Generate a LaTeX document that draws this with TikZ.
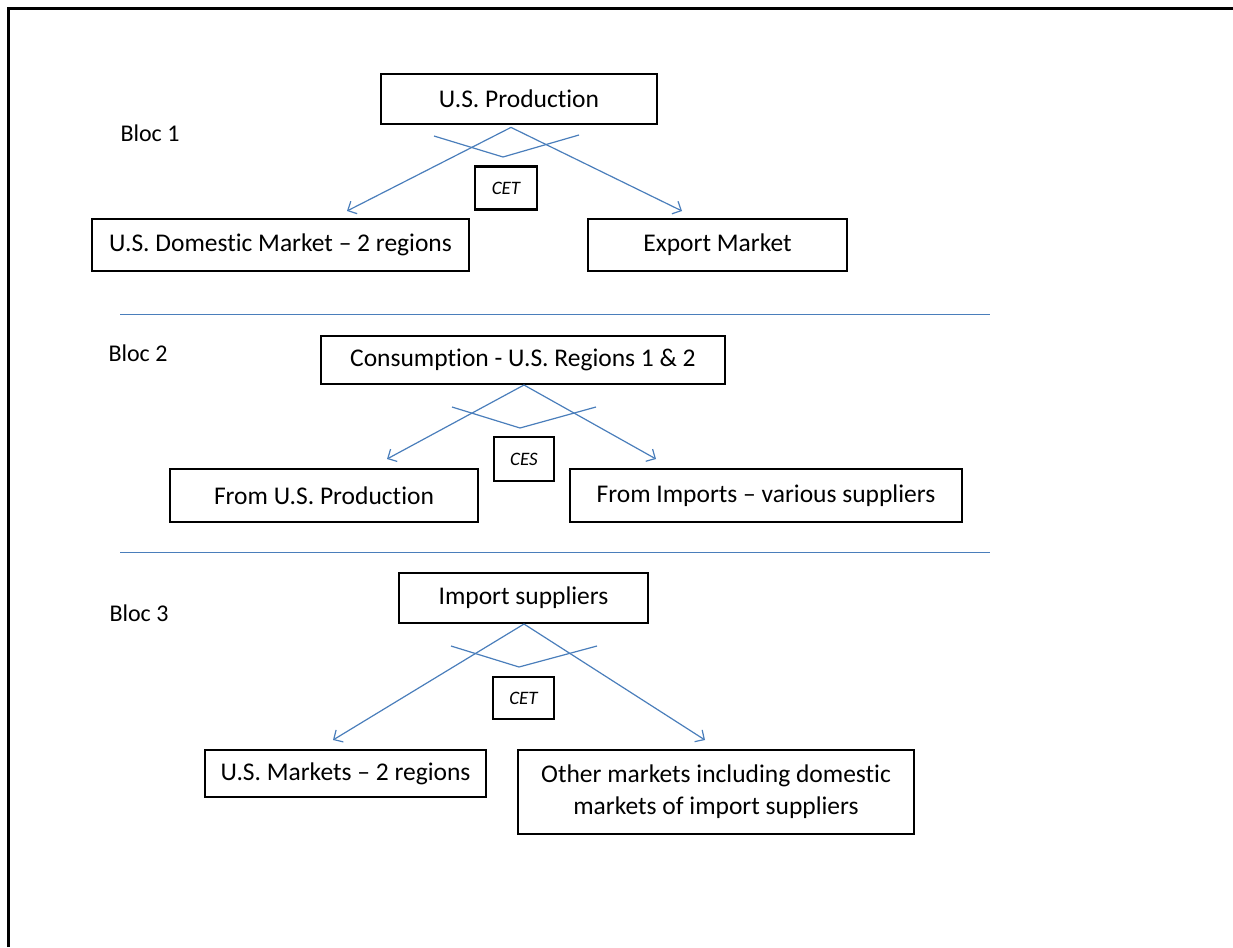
\documentclass[tikz,border=0pt]{standalone}
\usepackage{fontspec}
\setmainfont[Ligatures=NoCommon]{Carlito}
\usetikzlibrary{arrows.meta}
\definecolor{lineblue}{HTML}{4A7EBB}
\tikzset{
  box/.style={draw=black, line width=2.8pt, inner sep=0pt, font=\fontsize{25.5}{32}\selectfont, align=center},
  small/.style={draw=black, line width=2.8pt, inner sep=0pt, font=\fontsize{19}{22}\selectfont\itshape},
  bloc/.style={font=\fontsize{24}{28}\selectfont, inner sep=0pt},
  conn/.style={draw=lineblue, line width=1.2pt, -{Straight Barb[length=7pt,width=14pt,line width=1.2pt]}},
  arcline/.style={draw=lineblue, line width=1.2pt},
  sep/.style={draw=lineblue, line width=1pt}
}
\begin{document}
\begin{tikzpicture}[x=1pt,y=-1pt]
\useasboundingbox (0,0) rectangle (1233,947);
\draw[line width=3pt] (8,947) -- (8,9) -- (1233,9);
% Bloc 1
\node[bloc] (b1) at (150,133) {Bloc 1};
\node[box, minimum width=276pt, minimum height=50pt] (prod) at (519,99) {U.S. Production};
\node[small, minimum width=62pt, minimum height=43pt] (cet1) at (506,188) {CET};
\node[box, minimum width=377pt, minimum height=52pt] (dom) at (280.5,245) {U.S. Domestic Market -- 2 regions};
\node[box, minimum width=259pt, minimum height=52pt] (exp) at (717.5,245) {Export Market};
\coordinate (t1l) at (347,211);
\coordinate (t1r) at (682,211);
\draw[conn] (prod.south) ++(-8,2) coordinate (s1) (s1) -- (t1l);
\draw[conn] (s1) -- (t1r);
\coordinate (a1l) at (434,136);
\coordinate (a1m) at (503,157);
\coordinate (a1r) at (579,135);
\draw[arcline] (a1l) -- (a1m) -- (a1r);
\coordinate (l1a) at (120,314);
\coordinate (l1b) at (990,314);
\draw[sep] (l1a) -- (l1b);
% Bloc 2
\node[bloc] (b2) at (138,353) {Bloc 2};
\node[box, minimum width=404pt, minimum height=48pt] (cons) at (523,360) {Consumption - U.S. Regions 1 \& 2};
\node[small, minimum width=60pt, minimum height=44pt] (ces) at (524,459) {CES};
\node[box, minimum width=308pt, minimum height=53pt] (fus) at (324,495.5) {From U.S. Production};
\node[box, minimum width=392pt, minimum height=53pt] (fim) at (766,495.5) {From Imports -- various suppliers};
\coordinate (s2) at (524,385);
\coordinate (t2l) at (387,459);
\coordinate (t2r) at (656,459);
\draw[conn] (s2) -- (t2l);
\draw[conn] (s2) -- (t2r);
\coordinate (a2l) at (452,407);
\coordinate (a2m) at (520,428);
\coordinate (a2r) at (596,407);
\draw[arcline] (a2l) -- (a2m) -- (a2r);
\coordinate (l2a) at (120,552);
\coordinate (l2b) at (990,552);
\draw[sep] (l2a) -- (l2b);
% Bloc 3
\node[bloc] (b3) at (139,613) {Bloc 3};
\node[box, minimum width=249pt, minimum height=50pt] (imp) at (523.5,598) {Import suppliers};
\node[small, minimum width=61pt, minimum height=42pt] (cet3) at (523.5,698) {CET};
\node[box, minimum width=281pt, minimum height=47pt] (usm) at (345.5,773.5) {U.S. Markets -- 2 regions};
\node[box, minimum width=396pt, minimum height=84pt] (oth) at (716,792) {Other markets including domestic\\markets of import suppliers};
\coordinate (s3) at (524,624);
\coordinate (t3l) at (333,740);
\coordinate (t3r) at (705,740);
\draw[conn] (s3) -- (t3l);
\draw[conn] (s3) -- (t3r);
\coordinate (a3l) at (451,646);
\coordinate (a3m) at (519,667);
\coordinate (a3r) at (597,646);
\draw[arcline] (a3l) -- (a3m) -- (a3r);
\end{tikzpicture}
\end{document}
